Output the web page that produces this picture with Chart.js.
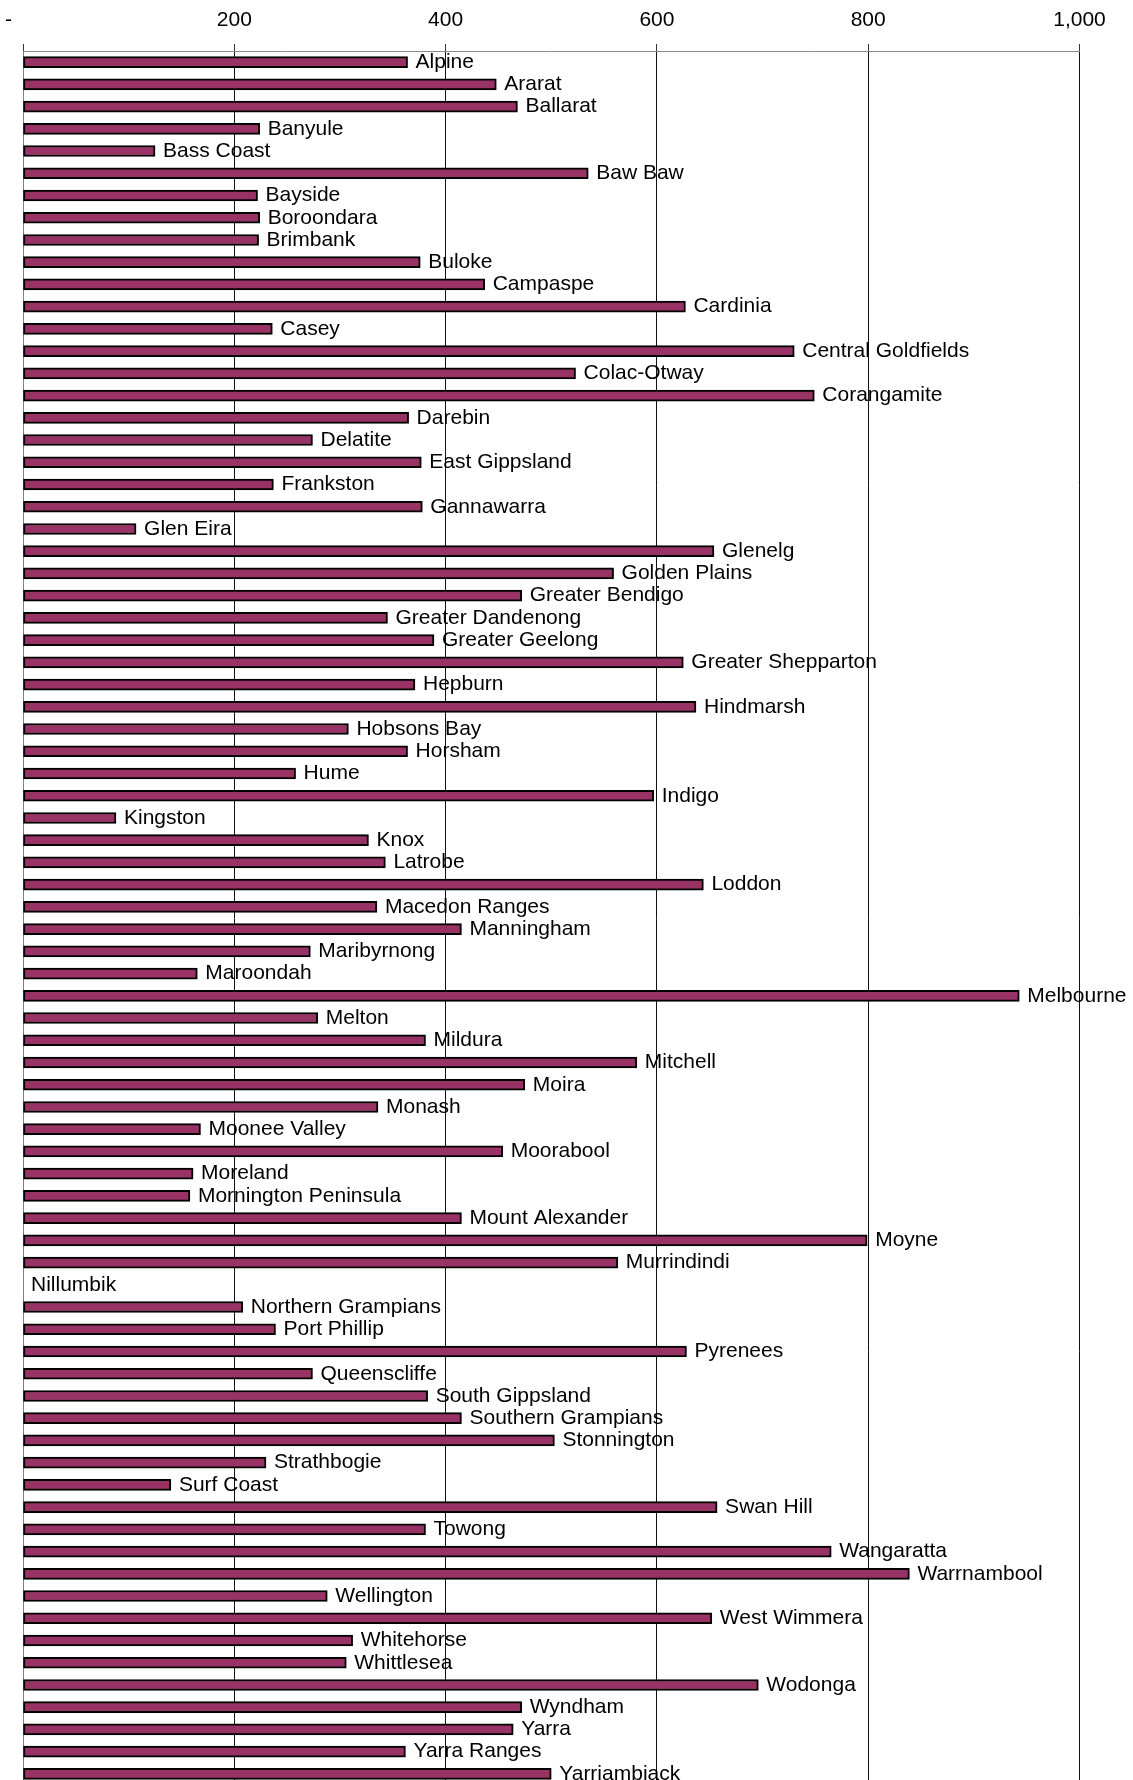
<!DOCTYPE html>
<html>
<head>
<meta charset="utf-8">
<title>Councils</title>
<script src="https://cdn.jsdelivr.net/npm/chart.js@4.4.1/dist/chart.umd.min.js"></script>
<style>
  html, body { margin: 0; padding: 0; background: #fff; }
  #wrap { width: 1133px; height: 1780px; overflow: hidden; }
</style>
</head>
<body>
<div id="wrap"><canvas id="councils-chart" width="1133" height="1786"></canvas></div>
<script>
const councils = [
  'Alpine', 'Ararat', 'Ballarat', 'Banyule', 'Bass Coast', 'Baw Baw', 'Bayside',
  'Boroondara', 'Brimbank', 'Buloke', 'Campaspe', 'Cardinia', 'Casey',
  'Central Goldfields', 'Colac-Otway', 'Corangamite', 'Darebin', 'Delatite',
  'East Gippsland', 'Frankston', 'Gannawarra', 'Glen Eira', 'Glenelg',
  'Golden Plains', 'Greater Bendigo', 'Greater Dandenong', 'Greater Geelong',
  'Greater Shepparton', 'Hepburn', 'Hindmarsh', 'Hobsons Bay', 'Horsham', 'Hume',
  'Indigo', 'Kingston', 'Knox', 'Latrobe', 'Loddon', 'Macedon Ranges',
  'Manningham', 'Maribyrnong', 'Maroondah', 'Melbourne', 'Melton', 'Mildura',
  'Mitchell', 'Moira', 'Monash', 'Moonee Valley', 'Moorabool', 'Moreland',
  'Mornington Peninsula', 'Mount Alexander', 'Moyne', 'Murrindindi', 'Nillumbik',
  'Northern Grampians', 'Port Phillip', 'Pyrenees', 'Queenscliffe',
  'South Gippsland', 'Southern Grampians', 'Stonnington', 'Strathbogie',
  'Surf Coast', 'Swan Hill', 'Towong', 'Wangaratta', 'Warrnambool', 'Wellington',
  'West Wimmera', 'Whitehorse', 'Whittlesea', 'Wodonga', 'Wyndham', 'Yarra',
  'Yarra Ranges', 'Yarriambiack'
];

const values = [
  364, 448, 468, 224, 125, 535, 222,
  224, 223, 376, 437, 627, 236,
  730, 523, 749, 365, 274,
  377, 237, 378, 107, 654,
  559, 472, 345, 389,
  625, 371, 637, 308, 364, 258,
  597, 88, 327, 343, 644, 335,
  415, 272, 165, 943, 279, 381,
  581, 475, 336, 168, 454, 161,
  158, 415, 799, 563, 0,
  208, 239, 628, 274,
  383, 415, 503, 230,
  140, 657, 381, 765, 839, 288,
  652, 312, 306, 696, 472, 464,
  362, 500
];

const xMin = 0;
const xMax = 1000;
const xStep = 200;

const FONT = '"Liberation Sans", Arial, sans-serif';

// category name written just right of each bar end
const barLabels = {
  id: 'barLabels',
  afterDatasetsDraw(chart) {
    const ctx = chart.ctx;
    const meta = chart.getDatasetMeta(0);
    ctx.save();
    ctx.font = '21px ' + FONT;
    ctx.fillStyle = '#000';
    ctx.textAlign = 'left';
    ctx.textBaseline = 'middle';
    meta.data.forEach((bar, i) => {
      ctx.fillText(chart.data.labels[i], bar.x + 8, bar.y);
    });
    ctx.restore();
  }
};

const fmt = new Intl.NumberFormat('en-US');

new Chart(document.getElementById('councils-chart').getContext('2d'), {
  type: 'bar',
  data: {
    labels: councils,
    datasets: [{
      data: values,
      backgroundColor: '#993366',
      borderColor: '#000',
      borderWidth: 2,
      borderSkipped: false,
      barThickness: 11
    }]
  },
  options: {
    indexAxis: 'y',
    responsive: false,
    animation: false,
    events: [],
    layout: { padding: { top: 0, left: 0, right: 53.5, bottom: 1 } },
    plugins: {
      legend: { display: false },
      tooltip: { enabled: false }
    },
    scales: {
      x: {
        position: 'top',
        min: xMin,
        max: xMax,
        afterFit: (s) => {
          s.height = 51;
          // keep the plot edges fixed; tick labels fit in the margins anyway
          s.paddingLeft = 0;
          s.paddingRight = 0;
        },
        afterBuildTicks: (s) => {
          s.ticks = [];
          for (let v = xMin; v <= xMax; v += xStep) s.ticks.push({ value: v });
        },
        ticks: {
          padding: 11,
          color: '#000',
          font: { family: FONT, size: 21 },
          callback: (v) => (v === 0 ? '-     ' : fmt.format(v))
        },
        grid: {
          color: '#111',
          lineWidth: 1,
          tickLength: 7,
          tickColor: '#333'
        },
        border: { display: true, color: '#8a8a8a', width: 1 }
      },
      y: {
        afterFit: (s) => { s.width = 23; },
        ticks: { display: false },
        grid: { display: false, drawTicks: false },
        border: { display: true, color: '#808080', width: 1 }
      }
    }
  },
  plugins: [barLabels]
});
</script>
</body>
</html>
